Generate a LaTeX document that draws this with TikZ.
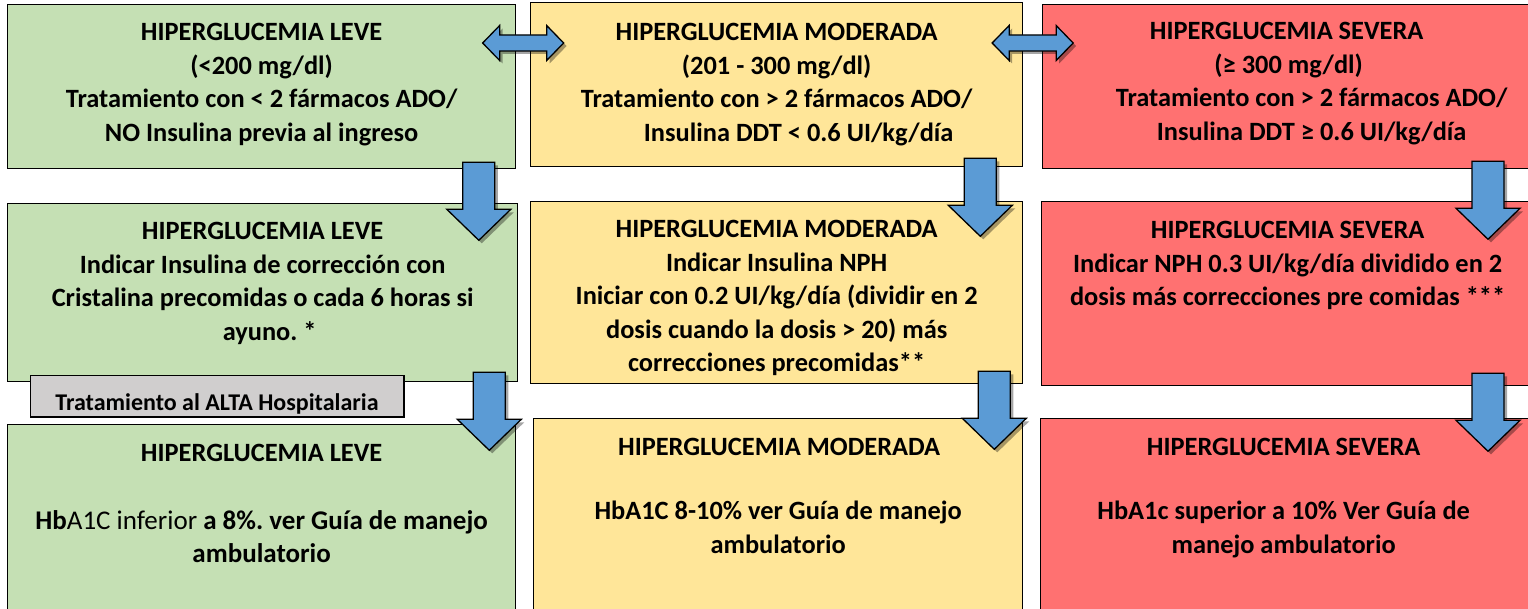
\documentclass[tikz,border=0pt]{standalone}
\usepackage{fontspec}
\setmainfont{Carlito}
\frenchspacing
\usetikzlibrary{calc,shadows}
\definecolor{cgreen}{HTML}{C5E0B4}
\definecolor{cyellow}{HTML}{FFE699}
\definecolor{cred}{HTML}{FF7171}
\definecolor{cgrey}{HTML}{D0CECE}
\definecolor{cblue}{HTML}{5B9BD5}
\tikzset{
  box/.style={draw=black, line width=1.3pt, inner sep=0pt, anchor=north west},
  txt/.style={anchor=north, align=center, inner sep=0pt, font=\bfseries\fontsize{26.4}{33.5}\selectfont},
  blockarrow/.style={fill=cblue, draw=black, line width=1.3pt, line join=miter,
     drop shadow={shadow xshift=3pt, shadow yshift=-3pt, opacity=0.35, fill=black}},
  pics/downarr/.style={code={
     \path[blockarrow] (-16,0) -- (16,0) -- (16,47) -- (32,47) -- (0,78) -- (-32,47) -- (-16,47) -- cycle;}},
  pics/duoarr/.style={code={
     \path[blockarrow] (-40.5,0) -- (-23.5,-17.5) -- (-23.5,-8) -- (23.5,-8) -- (23.5,-17.5) -- (40.5,0)
        -- (23.5,17.5) -- (23.5,8) -- (-23.5,8) -- (-23.5,17.5) -- cycle;}}
}
\begin{document}
\begin{tikzpicture}[x=1pt,y=-1pt]
\useasboundingbox (0,0) rectangle (1528,609);
% boxes row 1
\node[box, fill=cgreen, minimum width=508pt, minimum height=164pt] (g1) at (7,4) {};
\node[box, fill=cyellow, minimum width=492pt, minimum height=164pt] (y1) at (530,2) {};
\node[box, fill=cred, minimum width=492pt, minimum height=164pt] (r1) at (1042,4) {};
% row 2
\node[box, fill=cgreen, minimum width=510pt, minimum height=178pt] (g2) at (7,203) {};
\node[box, fill=cyellow, minimum width=492pt, minimum height=182pt] (y2) at (530,201) {};
\node[box, fill=cred, minimum width=492pt, minimum height=184pt] (r2) at (1041,201) {};
% row 3
\node[box, fill=cgreen, minimum width=508pt, minimum height=200pt] (g3) at (7,424) {};
\node[box, fill=cyellow, minimum width=489pt, minimum height=200pt] (y3) at (533,418) {};
\node[box, fill=cred, minimum width=494pt, minimum height=200pt] (r3) at (1040,418) {};
% grey label
\node[box, fill=cgrey, line width=1pt, minimum width=373pt, minimum height=41pt] (alta) at (30,375) {};
\begin{scope}
\clip (alta.north west) rectangle (alta.south east);
\node[anchor=base, inner sep=0pt, font=\bfseries\fontsize{24}{26}\selectfont] (altat) at ($(alta.south)+(0,-7)$) {Tratamiento al ALTA Hospitalaria};
\end{scope}
\draw[line width=1pt] (alta.north west) rectangle (alta.south east);

% texts row 1
\node[txt] (tg1) at ($(g1.north)+(0,19)$) {HIPERGLUCEMIA LEVE\\(<200 mg/dl)\\Tratamiento con < 2 fármacos ADO/\\NO Insulina previa al ingreso};
\node[txt] (ty1) at ($(y1.north)+(0,21)$) {HIPERGLUCEMIA MODERADA\\(201 - 300 mg/dl)\\Tratamiento con > 2 fármacos ADO/\\\hspace*{44pt}Insulina DDT < 0.6 UI/kg/día};
\node[txt] (tr1) at ($(r1.north)+(23,18)$) {\hspace*{-50pt}HIPERGLUCEMIA SEVERA\\\hspace*{-46pt}(\symbol{"2265} 300 mg/dl)\\Tratamiento con > 2 fármacos ADO/\\Insulina DDT \symbol{"2265} 0.6 UI/kg/día};
% texts row 2
\node[txt] (tg2) at ($(g2.north)+(0,19)$) {HIPERGLUCEMIA LEVE\\Indicar Insulina de corrección con\\Cristalina precomidas o cada 6 horas si\\\hspace*{14pt}ayuno. *};
\node[txt] (ty2) at ($(y2.north)+(0,19)$) {HIPERGLUCEMIA MODERADA\\Indicar Insulina NPH\\Iniciar con 0.2 UI/kg/día (dividir en 2\\dosis cuando la dosis > 20) más\\correcciones precomidas**};
\node[txt] (tr2) at ($(r2.north)+(0,20)$) {HIPERGLUCEMIA SEVERA\\Indicar NPH 0.3 UI/kg/día dividido en 2\\dosis más correcciones pre comidas ***};
% texts row 3
\node[txt] (tg3h) at ($(g3.north)+(0,20)$) {HIPERGLUCEMIA LEVE};
\node[txt, font=\bfseries\fontsize{27}{33}\selectfont] (tg3) at ($(g3.north)+(0,86)$) {Hb{\mdseries A1C inferior} a 8\%. ver Guía de manejo\\ambulatorio};
\node[txt] (ty3h) at ($(y3.north)+(1,20)$) {HIPERGLUCEMIA MODERADA};
\node[txt] (ty3) at ($(y3.north)+(0,83)$) {HbA1C 8-10\% ver Guía de manejo\\ambulatorio};
\node[txt] (tr3h) at ($(r3.north)+(-4,20)$) {HIPERGLUCEMIA SEVERA};
\node[txt] (tr3) at ($(r3.north)+(-4,83)$) {HbA1c superior a 10\% Ver Guía de\\manejo ambulatorio};

% double arrows
\path ($(g1.east)!0.5!(y1.west)$) coordinate (m1);
\path ($(y1.east)!0.5!(r1.west)$) coordinate (m2);
\path (m1 |- 0,43) pic {duoarr};
\path (m2 |- 0,43) pic {duoarr};
% down arrows
\path ($(g1.south east)+(-37.5,-7)$) pic {downarr};
\path ($(y1.south east)+(-43,-9)$) pic {downarr};
\path ($(r1.south west)+(446,-8)$) pic {downarr};
\path ($(g2.south east)+(-29,-10)$) pic {downarr};
\path ($(y2.south east)+(-29,-13)$) pic {downarr};
\path ($(r2.south west)+(447,-13)$) pic {downarr};
\end{tikzpicture}
\end{document}
